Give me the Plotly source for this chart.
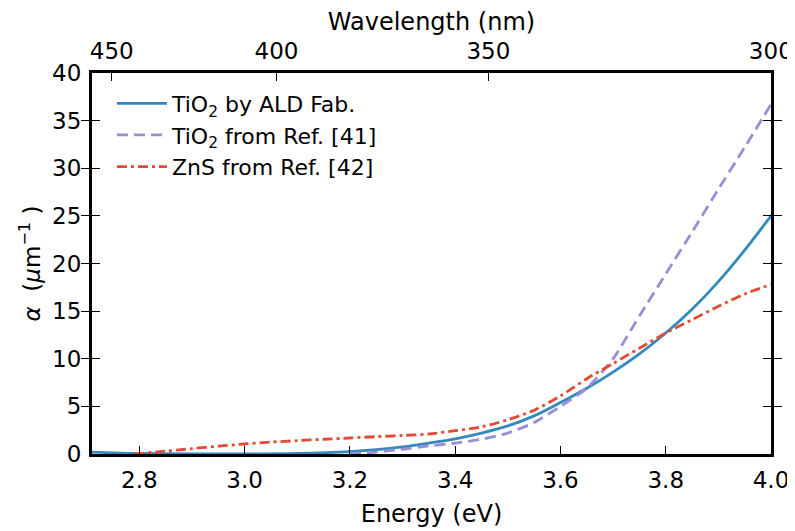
import plotly.graph_objects as go

# photon energy grid (eV) and absorption coefficient alpha (1/um)
energy_ald = [2.71, 2.75, 2.8, 2.9, 3.0, 3.1, 3.2, 3.25, 3.3, 3.35, 3.4, 3.45, 3.5,
              3.55, 3.6, 3.65, 3.7, 3.75, 3.8, 3.85, 3.9, 3.95, 4.0]
alpha_ald = [0.2, 0.12, 0.05, 0.01, 0.0, 0.05, 0.25, 0.45, 0.75, 1.15, 1.6, 2.2, 2.95,
             4.0, 5.4, 6.9, 8.6, 10.5, 12.7, 15.2, 18.1, 21.4, 25.0]

energy_ref41 = [3.2, 3.25, 3.3, 3.35, 3.4, 3.45, 3.5, 3.55, 3.6, 3.65, 3.7, 3.75,
                3.8, 3.85, 3.9, 3.95, 4.0]
alpha_ref41 = [0.0, 0.2, 0.5, 0.85, 1.15, 1.55, 2.2, 3.3, 5.0, 6.9, 10.0, 14.5,
               18.9, 23.3, 27.8, 32.2, 36.7]

energy_zns = [2.79, 2.85, 2.9, 2.95, 3.0, 3.05, 3.1, 3.15, 3.2, 3.25, 3.3, 3.35, 3.4,
              3.45, 3.5, 3.55, 3.6, 3.65, 3.7, 3.75, 3.8, 3.85, 3.9, 3.95, 4.0]
alpha_zns = [0.0, 0.3, 0.56, 0.82, 1.05, 1.25, 1.4, 1.55, 1.68, 1.82, 1.95, 2.1, 2.45,
             2.85, 3.6, 4.6, 6.1, 7.9, 9.5, 11.1, 12.7, 14.1, 15.5, 16.8, 17.8]

energy_ticks = [2.8, 3.0, 3.2, 3.4, 3.6, 3.8, 4.0]
alpha_ticks = [0, 5, 10, 15, 20, 25, 30, 35, 40]
wavelength_ticks = [450, 400, 350, 300]

# top axis mapping as drawn in the original (linear in 1/wavelength)
WL_A, WL_B = 1127.0, 0.243


def wl_to_energy(wl):
    return WL_A / wl + WL_B


FONT = "DejaVu Sans"
BLUE = "#348ABD"
PURPLE = "#988ED5"
RED = "#E24A33"

fig = go.Figure()
fig.add_trace(go.Scatter(x=energy_ald, y=alpha_ald, mode="lines",
                         name="TiO<sub>2</sub> by ALD Fab.", legendgroup="a",
                         line=dict(color=BLUE, width=2.8, shape="spline", smoothing=0.8)))
fig.add_trace(go.Scatter(x=energy_ref41, y=alpha_ref41, mode="lines",
                         name="TiO<sub>2</sub> from Ref. [41]", legendgroup="b",
                         line=dict(color=PURPLE, width=2.8, dash="11px,6px",
                                   shape="spline", smoothing=0.6)))
fig.add_trace(go.Scatter(x=energy_zns, y=alpha_zns, mode="lines",
                         name="ZnS from Ref. [42]", legendgroup="c",
                         line=dict(color=RED, width=2.8, dash="10px,4px,3px,4px",
                                   shape="spline", smoothing=0.8)))
# invisible trace to carry the top axis
fig.add_trace(go.Scatter(x=[energy_ticks[0]], y=[None], xaxis="x2", showlegend=False,
                         hoverinfo="skip"))

x_range = [2.71, 4.0]
tick_style = dict(ticks="inside", ticklen=8, tickwidth=1, tickcolor="black",
                  showgrid=False, zeroline=False, automargin=False,
                  tickfont=dict(size=23, family=FONT))
# the page body adds an 8px offset, so the figure is drawn 8px smaller
fig.update_layout(
    width=787, height=523,
    margin=dict(l=84, r=24, t=65, b=77),
    paper_bgcolor="white", plot_bgcolor="white",
    font=dict(family=FONT, size=20, color="black"),
    showlegend=True,
    legend=dict(x=0.0294, y=0.975, xanchor="left", yanchor="top",
                bgcolor="rgba(0,0,0,0)", font=dict(size=22, family=FONT),
                itemwidth=50, tracegroupgap=0),
    xaxis=dict(range=x_range, tickvals=energy_ticks, tickformat=".1f",
               showline=True, linewidth=3, linecolor="black", mirror=True,
               ticklabelstandoff=3,
               title=dict(text="Energy (eV)", standoff=14, font=dict(size=24)),
               **tick_style),
    xaxis2=dict(range=x_range, overlaying="x", side="top",
                tickvals=[wl_to_energy(w) for w in wavelength_ticks],
                ticktext=[str(w) for w in wavelength_ticks], showline=False,
                ticklabelstandoff=8,
                title=dict(text="Wavelength (nm)", standoff=15, font=dict(size=24)),
                **tick_style),
    yaxis=dict(range=[0, 40], tickvals=alpha_ticks,
               showline=True, linewidth=3, linecolor="black", mirror="allticks",
               ticklabelstandoff=3,
               title=dict(text="<i>α</i>  (<i>μ</i>m<sup>−1</sup> )", standoff=6,
                          font=dict(size=23)),
               **tick_style),
)

fig.write_html("out.html")
